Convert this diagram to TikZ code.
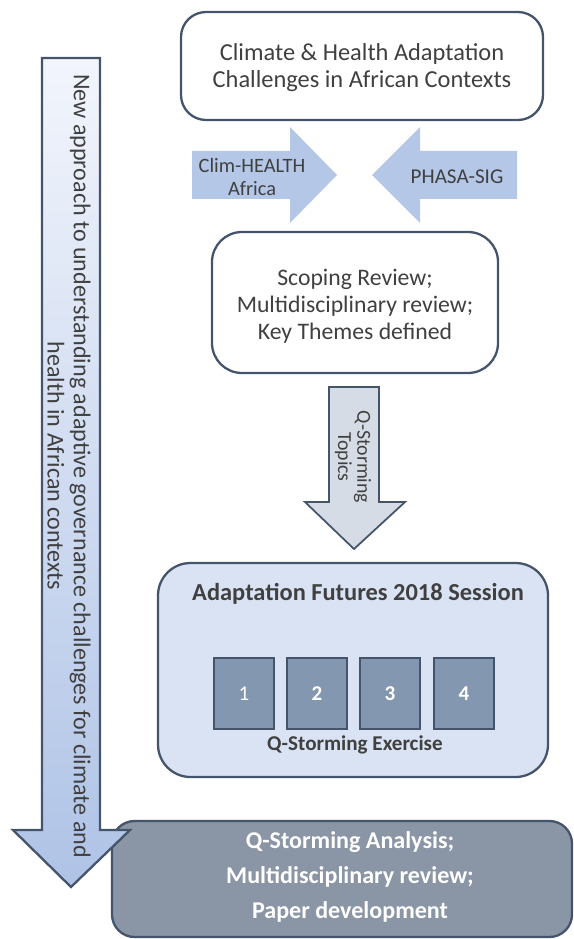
\documentclass[tikz,border=0pt]{standalone}
\usepackage{fontspec}
\setmainfont{Carlito}
\definecolor{edge}{HTML}{44546A}
\definecolor{ink}{HTML}{404040}
\definecolor{sidearrow}{HTML}{B4C7E7}
\definecolor{topicarrow}{HTML}{D6DCE5}
\definecolor{session}{HTML}{DAE3F3}
\definecolor{qbox}{HTML}{8497B0}
\definecolor{result}{HTML}{8A95A5}
\definecolor{bigtop}{HTML}{F2F5FC}
\definecolor{bigbot}{HTML}{AFC3E6}
\tikzset{
  frame/.style={draw=edge, line width=1.3pt},
  txt/.style={text=ink, align=center, font=\fontsize{13.9}{15.5}\selectfont},
  boldtxt/.style={text=ink, align=center, font=\fontsize{13.9}{16}\selectfont\bfseries},
  numbox/.style={frame, fill=qbox, line width=1pt}
}
\begin{document}
\begin{tikzpicture}[x=0.02cm,y=-0.02cm]
\useasboundingbox (0,0) rectangle (574,939);

% top box
\draw [frame, fill=white, rounded corners=0.5cm] (181,12) rectangle (543,120);
\node [txt] (challenges) at (362,68) {Climate \& Health Adaptation\\Challenges in African Contexts};

% partner arrows
\fill [sidearrow] (192,151) -- (290,151) -- (290,127) -- (337,175) -- (290,223) -- (290,199) -- (192,199) -- cycle;
\fill [sidearrow] (517,151) -- (420,151) -- (420,127) -- (372,175) -- (420,223) -- (420,199) -- (517,199) -- cycle;
\node [txt, font=\fontsize{11.6}{13.5}\selectfont] (climhealth) at (252,177) {Clim-HEALTH\\Africa};
\node [txt, font=\fontsize{12}{13.5}\selectfont] (phasa) at (457,177) {PHASA-SIG};

% scoping box
\draw [frame, fill=white, rounded corners=0.6cm] (212,232) rectangle (498,373);
\node [txt, font=\fontsize{13.5}{15.5}\selectfont] (scoping) at (355,306) {Scoping Review;\\Multidisciplinary review;\\Key Themes defined};

% topics arrow
\draw [frame, fill=topicarrow, line width=1pt] (329,387) -- (379,387) -- (379,502) -- (405,502) -- (354,549) -- (305,502) -- (329,502) -- cycle;
\node [txt, rotate=-90, font=\fontsize{11.3}{11}\selectfont] (topics) at (353,457) {Q-Storming\\Topics};

% session box
\draw [frame, fill=session, rounded corners=0.65cm] (158,563) rectangle (548,777);
\node [boldtxt] (session) at (358,594) {Adaptation Futures 2018 Session};
\foreach \x/\n/\w in {244/1/\mdseries,317/2/\bfseries,390/3/\bfseries,464/4/\bfseries} {
  \draw [numbox] (\x-30,658) rectangle (\x+30,729);
  \node [text=white, font=\fontsize{12}{14}\selectfont\w] (q\n) at (\x,694) {\n};
}
\node [boldtxt, font=\fontsize{12}{14}\selectfont\bfseries] (exercise) at (355,745) {Q-Storming Exercise};

% result box
\draw [frame, fill=result, rounded corners=0.45cm] (112,821) rectangle (572,937);
\node [txt, text=white, font=\fontsize{13.7}{19.8}\selectfont\bfseries] (analysis) at (350,877) {Q-Storming Analysis;\\Multidisciplinary review;\\Paper development};

% big arrow
\draw [frame, top color=bigtop, bottom color=bigbot] (42,58) -- (100,58) -- (100,830) -- (130,830) -- (71,887) -- (13,830) -- (42,830) -- cycle;
\node [txt, rotate=-90, font=\fontsize{13.7}{15}\selectfont] (approach) at (69,466) {New approach to understanding adaptive governance challenges for climate and\\health in African contexts};
\end{tikzpicture}
\end{document}
